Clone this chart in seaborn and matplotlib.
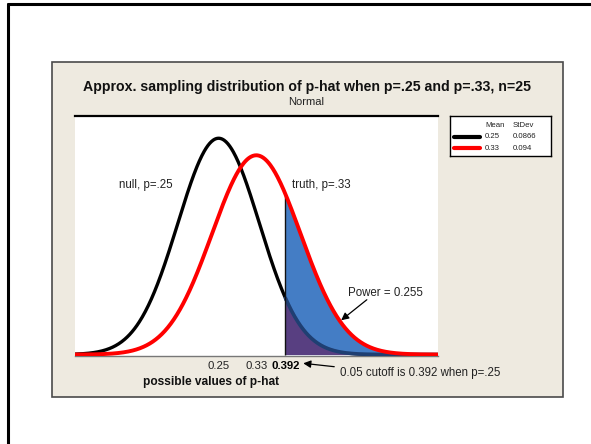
import numpy as np
import pandas as pd
import seaborn as sns
import matplotlib
matplotlib.use("Agg")
import matplotlib.pyplot as plt
from matplotlib.patches import Rectangle
from matplotlib.lines import Line2D

# ---- data ----
dist_names = ["null", "truth"]
means = [0.25, 0.33]
stdevs = [0.0866, 0.094]
line_colors = ["#000000", "#ff0000"]
cutoff = 0.392
power = 0.255
tick_values = [0.25, 0.33, 0.392]
tick_labels = ["0.25", "0.33", "0.392"]
title = "Approx. sampling distribution of p-hat when p=.25 and p=.33, n=25"
subtitle = "Normal"
xlabel = "possible values of p-hat"

sns.set_theme(style="white")
plt.rcParams["font.family"] = ["Liberation Sans", "DejaVu Sans"]

W, H = 591, 444
fig = plt.figure(figsize=(W / 100, H / 100), dpi=100)
fig.patch.set_facecolor("white")


def fx(px):
    return px / W


def fy(py):
    return 1 - py / H


# outer slide border (top and left)
fig.add_artist(Line2D([fx(7.5), fx(W + 5)], [fy(4.5), fy(4.5)], color="black", lw=2.2))
fig.add_artist(Line2D([fx(7.5), fx(7.5)], [fy(4.5), fy(H + 5)], color="black", lw=2.2))

# beige panel
fig.add_artist(Rectangle((fx(51.5), fy(397)), fx(563 - 51.5), (397 - 62.5) / H,
                         transform=fig.transFigure, facecolor="#eeeae0",
                         edgecolor="#4a4a4a", lw=1.2, zorder=0))

# main axes
L, R, T, B = 75, 438.4, 116.5, 355.5
ax = fig.add_axes([fx(L), fy(B), (R - L) / W, (B - T) / H])
ax.set_facecolor("white")

xlo, xhi = -0.0549, 0.7167
xs = np.linspace(xlo, xhi, 600)
frames = []
for name, m, s in zip(dist_names, means, stdevs):
    d = np.exp(-0.5 * ((xs - m) / s) ** 2) / (s * np.sqrt(2 * np.pi))
    frames.append(pd.DataFrame({"x": xs, "density": d, "dist": name}))
df = pd.concat(frames, ignore_index=True)

null_df = df[df["dist"] == "null"]
truth_df = df[df["dist"] == "truth"]

sns.lineplot(data=null_df, x="x", y="density", color=line_colors[0], lw=2.4, ax=ax, zorder=2)

mask_t = truth_df["x"] >= cutoff
mask_n = null_df["x"] >= cutoff
ax.fill_between(truth_df["x"][mask_t], 0, truth_df["density"][mask_t],
                color="#3a76c2", alpha=0.95, lw=0, zorder=3)
ax.fill_between(null_df["x"][mask_n], 0, null_df["density"][mask_n],
                color="#5a3c7e", alpha=0.95, lw=0, zorder=3.5)
# null curve inside the shaded region shows as a dark navy band
sns.lineplot(data=null_df[mask_n], x="x", y="density", color="#1f3f72", lw=2.6, ax=ax, zorder=3.6)

sns.lineplot(data=truth_df, x="x", y="density", color=line_colors[1], lw=2.8, ax=ax, zorder=4)

s_t = stdevs[1]
top_cut = np.exp(-0.5 * ((cutoff - means[1]) / s_t) ** 2) / (s_t * np.sqrt(2 * np.pi))
ax.vlines(cutoff, 0, top_cut, color="#111111", lw=1.0, zorder=3.8)

ax.set_xlim(xlo, xhi)
ax.set_ylim(-0.02, 5.07)
ax.set_xticks(tick_values)
ax.set_xticklabels(tick_labels)
ax.tick_params(axis="x", length=0, pad=4, labelsize=8.2, colors="#222222")
for lbl in ax.get_xticklabels():
    if lbl.get_text() == "0.392":
        lbl.set_fontweight("bold")
        lbl.set_color("black")
ax.set_yticks([])
ax.set_xlabel("")
ax.set_ylabel("")
for side in ["left", "right"]:
    ax.spines[side].set_visible(False)
ax.spines["top"].set_color("black")
ax.spines["top"].set_linewidth(1.6)
ax.spines["bottom"].set_color("#777777")
ax.spines["bottom"].set_linewidth(1.0)

# titles and labels
fig.text(fx(307), fy(86.7), title, ha="center", va="center", fontsize=10.2, fontweight="bold", color="#111111")
fig.text(fx(306.6), fy(101.7), subtitle, ha="center", va="center", fontsize=8, color="#222222")
fig.text(fx(211), fy(382), xlabel, ha="center", va="center", fontsize=8.6, fontweight="bold", color="#111111")

# curve annotations
fig.text(fx(118.7), fy(185), "null, p=.25", ha="left", va="center", fontsize=8.3, color="#222222")
fig.text(fx(292.5), fy(185), "truth, p=.33", ha="left", va="center", fontsize=8.3, color="#222222")
fig.text(fx(347.5), fy(293), f"Power = {power}", ha="left", va="center", fontsize=8.3, color="#222222")
fig.text(fx(340), fy(373), f"0.05 cutoff is {cutoff} when p=.25", ha="left", va="center", fontsize=8.3, color="#222222")

ax.annotate("", xy=(339, H - 322), xycoords="figure pixels",
            xytext=(369, H - 298), textcoords="figure pixels",
            arrowprops=dict(arrowstyle="-|>", color="black", lw=0.9, mutation_scale=11), zorder=6)
ax.annotate("", xy=(300.5, H - 363), xycoords="figure pixels",
            xytext=(337, H - 367), textcoords="figure pixels",
            arrowprops=dict(arrowstyle="-|>", color="black", lw=0.9, mutation_scale=11),
            annotation_clip=False)

# legend box
lax = fig.add_axes([fx(450), fy(156), (551 - 450) / W, (156 - 116) / H])
lax.set_xlim(450, 551)
lax.set_ylim(156, 116)
lax.set_xticks([])
lax.set_yticks([])
lax.set_facecolor("white")
for sp in lax.spines.values():
    sp.set_color("black")
    sp.set_linewidth(1.0)
lax.text(485, 125.5, "Mean", ha="left", va="center", fontsize=5.6, color="#222222")
lax.text(512.6, 125.5, "StDev", ha="left", va="center", fontsize=5.6, color="#222222")
for i, (m, s, c) in enumerate(zip(means, stdevs, line_colors)):
    yy = [137.0, 148.5][i]
    lax.plot([454, 479.5], [yy, yy], color=c, lw=3)
    lax.text(485, yy, f"{m}", ha="left", va="center", fontsize=5.6, color="#222222")
    lax.text(512.6, yy, f"{s}", ha="left", va="center", fontsize=5.6, color="#222222")

fig.savefig("out.png", dpi=100)
